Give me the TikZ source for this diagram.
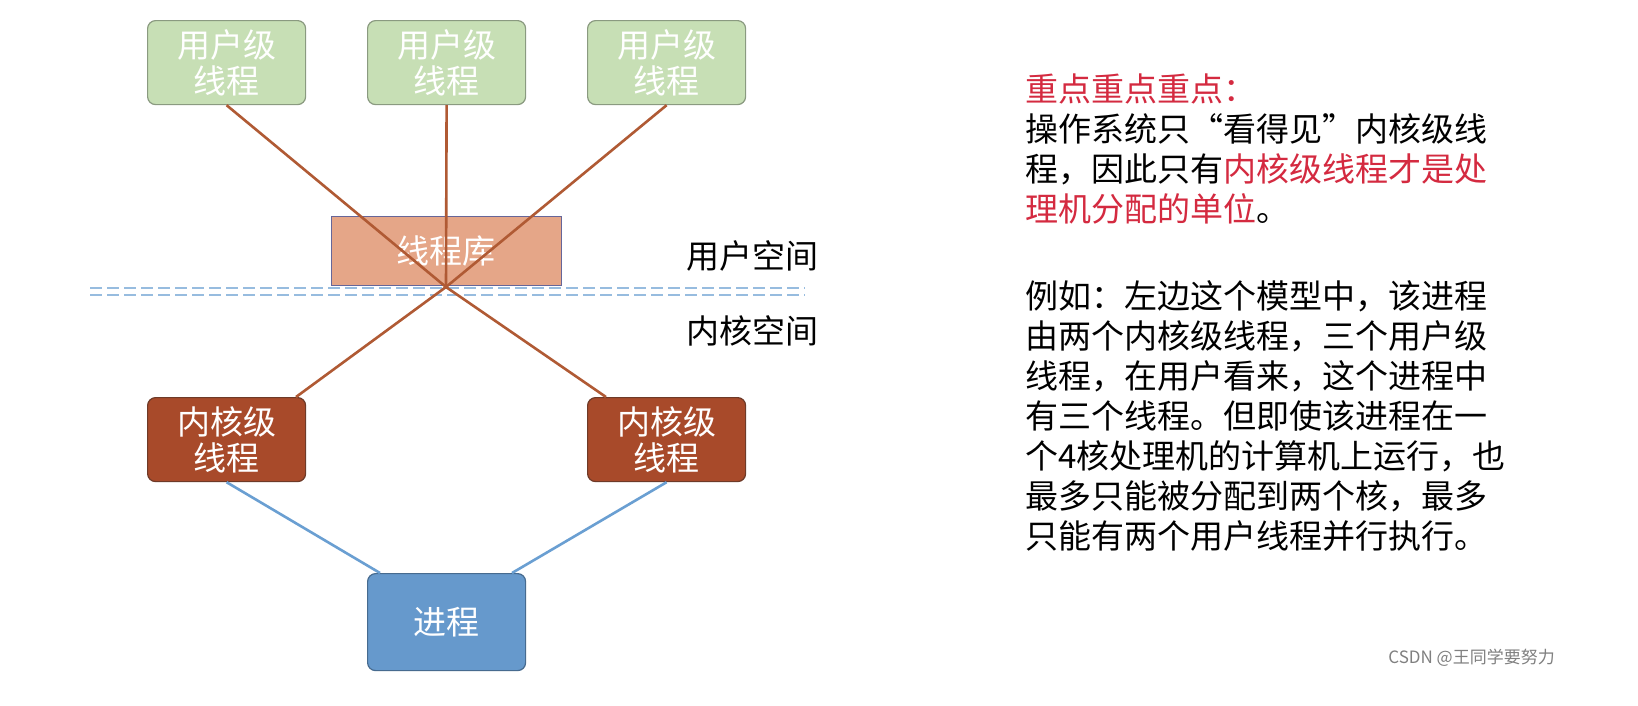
\documentclass[tikz,border=0pt]{standalone}
\usepackage{fontspec}
\setmainfont{Noto Sans CJK SC}
\begin{document}
\begin{tikzpicture}[x=1pt,y=-1pt,
  box/.style={draw,rounded corners=8pt,minimum width=158pt,minimum height=84pt,anchor=north west,inner sep=0pt,align=center,font=\fontsize{33}{36}\selectfont},
  ubox/.style={box,fill=ugreen,draw=ugreendk,text=white,line width=1.2pt},
  kbox/.style={box,fill=kred,draw=kreddk,text=white,line width=1.2pt},
  rl/.style={draw=rline,line width=2.6pt},
  bl/.style={draw=bline,line width=2.6pt},
  txt/.style={anchor=west,inner sep=0pt,font=\fontsize{33}{36}\selectfont},
  hl/.style={text=hred}]
\definecolor{ugreen}{HTML}{C7DFB5}
\definecolor{ugreendk}{HTML}{8A9A80}
\definecolor{kred}{HTML}{A84A2A}
\definecolor{kreddk}{HTML}{6E3A28}
\definecolor{rline}{HTML}{B05A34}
\definecolor{bline}{HTML}{6A9FD2}
\definecolor{hred}{HTML}{D42A40}
\definecolor{pblue}{HTML}{6699CC}
\useasboundingbox[fill=white] (0,0) rectangle (1638,705);
\node[ubox] (u1) at (147,20) {用户级\\线程};
\node[ubox] (u2) at (367,20) {用户级\\线程};
\node[ubox] (u3) at (587,20) {用户级\\线程};
\node[draw=gray!80!blue,fill={rgb,255:red,229;green,166;blue,136},minimum width=230pt,minimum height=69pt,anchor=north west,inner sep=0pt,text=white,font=\fontsize{33}{36}\selectfont] (lib) at (331,216) {线程库};
\draw[draw=bline!70,line width=1.5pt,dash pattern=on 12pt off 5pt] (90,288) -- (805,288) (90,295) -- (805,295);
\coordinate (c) at (446,287);
\coordinate (k2t) at (606,397);
\coordinate (k1t) at (296,397);
\coordinate (pl) at (380,573);
\coordinate (pr) at (512,573);
\node[kbox] (k1) at (147,397) {内核级\\线程};
\node[kbox] (k2) at (587,397) {内核级\\线程};
\node[box,fill=pblue,draw=pblue!70!black,text=white,minimum height=97pt,line width=1.2pt] (p) at (367,573) {进程};
\draw[rl] (u1.south) -- (c) -- (k2t);
\draw[rl] (u2.south) -- (c);
\draw[rl] (u3.south) -- (c) -- (k1t);
\draw[bl] (k1.south) -- (pl);
\draw[bl] (k2.south) -- (pr);
\node[txt] (s1) at (686,256) {用户空间};
\node[txt] (s2) at (686,331) {内核空间};
\node[txt,hl] (t1) at (1025,89) {重点重点重点：};
\node[txt] (t2) at (1025,129) {操作系统只“看得见”内核级线};
\node[txt] (t3) at (1025,169) {程，因此只有\textcolor{hred}{内核级线程才是处}};
\node[txt] (t4) at (1025,209) {\textcolor{hred}{理机分配的单位}。};
\node[txt] (t5) at (1025,296) {例如：左边这个模型中，该进程};
\node[txt] (t6) at (1025,336) {由两个内核级线程，三个用户级};
\node[txt] (t7) at (1025,376) {线程，在用户看来，这个进程中};
\node[txt] (t8) at (1025,416) {有三个线程。但即使该进程在一};
\node[txt] (t9) at (1025,456) {个4核处理机的计算机上运行，也};
\node[txt] (t10) at (1025,496) {最多只能被分配到两个核，最多};
\node[txt] (t11) at (1025,536) {只能有两个用户线程并行执行。};
\node[anchor=east,inner sep=0pt,text=gray,font=\fontsize{17}{18}\selectfont] (w) at (1555,658) {CSDN @王同学要努力};
\end{tikzpicture}
\end{document}
